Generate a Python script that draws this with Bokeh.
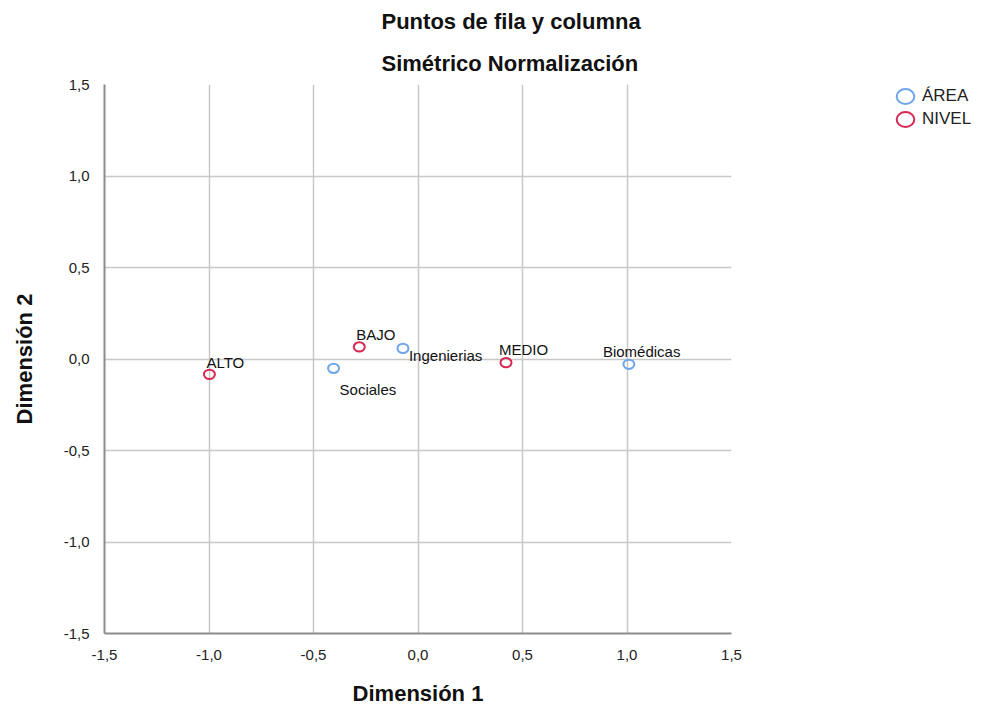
from bokeh.plotting import figure
from bokeh.models import FixedTicker, Legend, LegendItem, Title, ColumnDataSource
from bokeh.embed import file_html
from bokeh.resources import INLINE
from bokeh.core.properties import value

# ---- data ----
area_names = ["Biomédicas", "Ingenierias", "Sociales"]
area_dim1 = [1.009, -0.072, -0.404]
area_dim2 = [-0.029, 0.058, -0.051]

nivel_names = ["ALTO", "BAJO", "MEDIO"]
nivel_dim1 = [-0.998, -0.281, 0.421]
nivel_dim2 = [-0.084, 0.066, -0.020]

tick_values = [-1.5, -1.0, -0.5, 0.0, 0.5, 1.0, 1.5]
tick_labels = ["-1,5", "-1,0", "-0,5", "0,0", "0,5", "1,0", "1,5"]

# label placement (screen px)
area_dx = [-26, 6, 6]
area_dy = [-13, 7, 21]
nivel_dx = [-3, -3, -7]
nivel_dy = [-12, -12, -13]

FONT = "Liberation Sans"
BLUE = "#6fa6ea"
RED = "#d62a55"

p = figure(frame_width=627, frame_height=549,
           x_range=(-1.5, 1.5), y_range=(-1.5, 1.5),
           min_border_left=104, min_border_right=258,
           min_border_top=84, min_border_bottom=72,
           output_backend="svg", toolbar_location=None,
           background_fill_color="white", border_fill_color="white")
p.outline_line_color = None

src_a = ColumnDataSource(dict(x=area_dim1, y=area_dim2, name=area_names, dx=area_dx, dy=area_dy))
src_n = ColumnDataSource(dict(x=nivel_dim1, y=nivel_dim2, name=nivel_names, dx=nivel_dx, dy=nivel_dy))

for ax in (p.xaxis, p.yaxis):
    ax.ticker = FixedTicker(ticks=tick_values)
    ax.major_label_overrides = {v: l for v, l in zip(tick_values, tick_labels)}
    ax.major_tick_line_color = None
    ax.minor_tick_line_color = None
    ax.axis_line_color = "#8c8c8c"
    ax.axis_line_width = 2
    ax.major_label_text_font = FONT
    ax.major_label_text_font_size = "15px"
    ax.major_label_text_color = "#222222"
    ax.axis_label_text_font = FONT
    ax.axis_label_text_font_size = "22px"
    ax.axis_label_text_font_style = "bold"
    ax.axis_label_text_color = "#111111"

p.xaxis.axis_label = "Dimensión 1"
p.yaxis.axis_label = "Dimensión 2"
p.xaxis.major_label_standoff = 10
p.yaxis.major_label_standoff = 9
p.xaxis.axis_label_standoff = 18
p.yaxis.axis_label_standoff = 24

p.grid.ticker = FixedTicker(ticks=tick_values)
p.grid.grid_line_color = "#c8c8c8"
p.grid.grid_line_width = 1.5

ra = p.ellipse("x", "y", source=src_a, width=11, height=9.3,
               width_units="screen", height_units="screen",
               fill_color=None, line_color=BLUE, line_width=2)
rn = p.ellipse("x", "y", source=src_n, width=11, height=9.3,
               width_units="screen", height_units="screen",
               fill_color=None, line_color=RED, line_width=2)

for src in (src_a, src_n):
    p.text("x", "y", text="name", source=src, x_offset="dx", y_offset="dy",
           text_font=value(FONT), text_font_size="15px", text_color="#111111",
           text_align="left", text_baseline="alphabetic")

legend = Legend(items=[LegendItem(label="ÁREA", renderers=[ra]),
                       LegendItem(label="NIVEL", renderers=[rn])],
                location=(157, 503), glyph_width=34, glyph_height=22,
                label_height=22, spacing=1,
                label_standoff=0, padding=0, margin=0,
                border_line_color=None, background_fill_alpha=0,
                label_text_font=FONT, label_text_font_size="17px",
                label_text_color="#222222")
p.add_layout(legend, "right")

t2 = Title(text="Simétrico Normalización", align="left", offset=277,
           text_font=FONT, text_font_size="22px", text_font_style="bold",
           text_color="#111111", standoff=17)
t1 = Title(text="Puntos de fila y columna", align="left", offset=277,
           text_font=FONT, text_font_size="22px", text_font_style="bold",
           text_color="#111111", standoff=13)
p.add_layout(t2, "above")
p.add_layout(t1, "above")

open("out.html", "w").write(file_html(p, INLINE))
